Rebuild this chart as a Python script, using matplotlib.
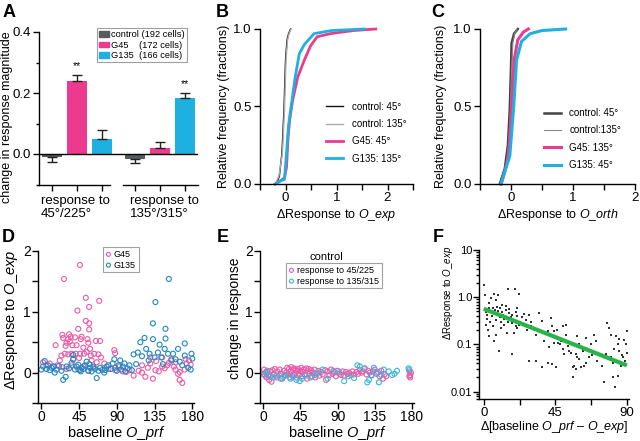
import matplotlib
matplotlib.use("Agg")
import matplotlib.pyplot as plt
import matplotlib.transforms as mtransforms
from matplotlib.patches import Patch
from matplotlib.ticker import MultipleLocator, FixedLocator, NullFormatter, LogLocator

plt.rcParams['font.family'] = ['Liberation Sans', 'DejaVu Sans']
plt.rcParams['mathtext.fontset'] = 'custom'
plt.rcParams['mathtext.rm'] = 'Liberation Sans'
plt.rcParams['mathtext.it'] = 'Liberation Sans:italic'
plt.rcParams['axes.linewidth'] = 1.0

# ---- colours
C_CTRL = '#575b5b'
C_G45 = '#ec3a8e'
C_G135 = '#1fb0e2'
C_D45 = '#ec5aa6'
C_D135 = '#2288c0'
C_E135 = '#3ab6da'

# ---- panel A: bars
a_groups = ['response to\n45°/225°', 'response to\n135°/315°']
a_legend = ['control (192 cells)', 'G45    (172 cells)', 'G135  (166 cells)']
a_mean_45 = [-0.010, 0.240, 0.050]
a_err_45 = [0.016, 0.020, 0.030]
a_mean_135 = [-0.015, 0.020, 0.185]
a_err_135 = [0.013, 0.018, 0.015]
a_stars = [(1, '**'), (5, '**')]  # bar index, mark

# ---- panel B: cumulative curves (x, fraction)
b_ctrl45_x = [-0.18, -0.12, -0.07, -0.03, 0.0, 0.03, 0.06, 0.10]
b_ctrl45_y = [0.0, 0.05, 0.20, 0.48, 0.80, 0.93, 0.97, 1.0]
b_ctrl135_x = [-0.20, -0.13, -0.06, -0.02, 0.01, 0.04, 0.07, 0.11]
b_ctrl135_y = [0.0, 0.05, 0.20, 0.48, 0.80, 0.93, 0.97, 1.0]
b_g45_x = [-0.20, -0.10, -0.02, 0.02, 0.05, 0.08, 0.14, 0.24, 0.37, 0.49, 0.62, 0.88, 1.33, 1.77]
b_g45_y = [0.0, 0.02, 0.04, 0.11, 0.30, 0.41, 0.54, 0.69, 0.80, 0.89, 0.95, 0.97, 0.99, 1.0]
b_g135_x = [-0.20, -0.10, -0.02, 0.02, 0.06, 0.11, 0.19, 0.27, 0.37, 0.56, 0.90, 1.55]
b_g135_y = [0.0, 0.02, 0.03, 0.20, 0.38, 0.50, 0.69, 0.84, 0.90, 0.97, 0.99, 1.0]

# ---- panel C
c_ctrl45_x = [-0.18, -0.10, -0.05, -0.02, 0.0, 0.01, 0.05, 0.11]
c_ctrl45_y = [0.0, 0.10, 0.25, 0.48, 0.75, 0.91, 0.97, 1.0]
c_ctrl135_x = [-0.17, -0.09, -0.04, -0.01, 0.01, 0.03, 0.06, 0.10]
c_ctrl135_y = [0.0, 0.10, 0.25, 0.48, 0.75, 0.91, 0.97, 1.0]
c_g45_x = [-0.16, -0.10, -0.04, 0.01, 0.05, 0.11, 0.20, 0.28]
c_g45_y = [0.0, 0.08, 0.18, 0.48, 0.80, 0.93, 0.98, 1.0]
c_g135_x = [-0.16, -0.10, -0.02, 0.04, 0.09, 0.17, 0.31, 0.50, 0.88]
c_g135_y = [0.0, 0.08, 0.18, 0.48, 0.80, 0.92, 0.97, 0.99, 1.0]

# ---- panel D: (baseline O_prf, delta response)
d_g45 = [(27, 1.54), (46, 1.77), (53, 1.23), (43, 1.02), (57, 1.08), (69, 1.18), (53, 0.85), (57, 0.81),
         (44, 0.72), (57, 0.71), (25, 0.62), (26, 0.57), (17, 0.45), (33, 0.63), (35, 0.59), (32, 0.55),
         (40, 0.58), (48, 0.59), (47, 0.55), (34, 0.51), (30, 0.49), (29, 0.44), (37, 0.45), (42, 0.45),
         (65, 0.52), (70, 0.52), (55, 0.55), (56, 0.49), (50, 0.41), (58, 0.39), (54, 0.34), (24, 0.28),
         (28, 0.31), (32, 0.30), (36, 0.31), (41, 0.31), (46, 0.31), (51, 0.31), (59, 0.28), (63, 0.31),
         (68, 0.30), (71, 0.25), (87, 0.37), (88, 0.32), (22, 0.20), (38, 0.22), (45, 0.24), (60, 0.20),
         (66, 0.17), (75, 0.15), (2, 0.17), (6, 0.12), (10, 0.15), (14, 0.10), (19, 0.12), (25, 0.09),
         (30, 0.06), (36, 0.12), (44, 0.05), (50, 0.10), (56, 0.03), (62, 0.08), (80, 0.06), (88, 0.04),
         (93, 0.10), (97, 0.02), (101, 0.01), (105, 0.04), (110, -0.05), (116, 0.03), (120, 0.0),
         (124, -0.07), (127, 0.08), (130, 0.15), (133, -0.10), (136, 0.04), (140, 0.02), (144, 0.10),
         (147, 0.07), (150, 0.12), (152, 0.16), (155, 0.22), (158, 0.10), (160, 0.05), (163, -0.02),
         (165, 0.01), (168, -0.17), (171, 0.05), (173, 0.15), (176, 0.20), (178, 0.13), (130, 0.25),
         (137, 0.19), (120, 0.12), (144, 0.25), (165, -0.12), (160, 0.17), (172, 0.22)]
d_g135 = [(152, 1.54), (136, 1.16), (133, 0.81), (148, 0.72), (148, 0.56), (123, 0.57), (133, 0.55),
          (118, 0.50), (141, 0.46), (171, 0.48), (163, 0.39), (157, 0.31), (115, 0.33), (125, 0.39),
          (129, 0.31), (139, 0.33), (147, 0.39), (151, 0.31), (135, 0.25), (143, 0.25), (171, 0.28),
          (179, 0.31), (180, 0.23), (110, 0.30), (160, 0.22), (165, 0.18), (128, 0.20), (120, 0.27),
          (155, 0.20), (145, 0.14), (113, 0.14), (175, 0.08), (178, 0.05), (168, 0.12), (0, 0.05),
          (2, 0.10), (4, 0.19), (6, 0.06), (8, 0.12), (10, 0.04), (12, 0.08), (15, 0.10), (18, 0.05),
          (21, 0.11), (24, 0.03), (26, -0.12), (29, -0.07), (30, 0.10), (33, 0.07), (36, 0.16),
          (38, 0.22), (40, 0.05), (42, 0.10), (44, 0.13), (46, 0.04), (48, 0.08), (50, 0.06), (52, 0.12),
          (54, 0.18), (56, 0.03), (58, 0.08), (60, 0.02), (62, 0.10), (64, 0.06), (66, -0.09), (68, 0.03),
          (70, 0.08), (73, 0.05), (76, 0.04), (78, 0.10), (80, 0.12), (83, 0.06), (85, 0.15), (87, 0.22),
          (88, 0.08), (90, 0.03), (92, 0.12), (94, 0.20), (95, 0.05), (97, 0.10), (99, 0.15), (100, 0.02),
          (103, 0.07), (105, 0.12), (108, 0.04), (38, 0.29), (47, 0.02), (16, 0.0), (57, 0.14), (75, 0.0)]

# ---- panel E: control cells
e_45 = [(0, -0.02), (1, 0.05), (2, -0.05), (3, 0.0), (4, -0.08), (5, 0.03), (6, -0.04), (7, -0.12),
        (8, 0.02), (9, -0.06), (10, -0.15), (11, 0.04), (13, -0.03), (14, 0.06), (16, -0.08), (17, 0.02),
        (19, -0.04), (20, 0.05), (22, -0.02), (23, -0.10), (25, 0.03), (26, -0.05), (28, 0.0), (29, 0.08),
        (30, -0.03), (31, 0.06), (32, -0.08), (33, 0.02), (34, 0.09), (35, -0.05), (36, 0.04), (37, 0.07),
        (38, -0.02), (39, 0.05), (40, -0.08), (41, 0.02), (42, 0.06), (43, -0.04), (45, 0.03), (46, 0.08),
        (47, -0.06), (48, 0.01), (49, 0.05), (50, -0.03), (52, 0.07), (53, -0.10), (54, 0.02), (55, 0.06),
        (56, -0.02), (58, 0.04), (59, -0.06), (60, 0.0), (62, 0.05), (63, -0.08), (65, -0.02), (67, 0.03),
        (68, -0.05), (70, 0.01), (72, -0.03), (75, 0.04), (76, -0.12), (78, 0.02), (80, -0.04), (82, 0.05),
        (84, -0.02), (86, 0.01), (88, -0.06), (90, 0.03), (92, -0.02), (94, -0.04), (96, 0.02), (98, -0.05),
        (100, 0.01), (102, -0.02), (104, 0.0), (106, -0.04), (108, 0.02), (110, -0.03), (113, 0.01),
        (115, -0.02), (117, 0.04), (119, 0.0), (121, 0.02), (123, 0.07), (125, -0.03), (127, 0.03),
        (129, 0.0), (131, -0.04), (133, 0.02), (135, 0.05), (137, -0.02), (139, 0.01), (141, -0.06),
        (143, 0.03), (145, -0.10), (147, -0.03), (149, -0.06), (177, 0.02), (178, -0.04), (178, -0.08),
        (179, 0.0), (177, -0.06)]
e_135 = [(1, -0.03), (4, 0.02), (8, -0.06), (12, -0.08), (16, -0.05), (21, -0.10), (24, -0.07),
         (27, -0.04), (33, -0.10), (36, -0.06), (40, -0.12), (44, -0.14), (47, -0.10), (51, -0.05),
         (57, -0.08), (63, -0.04), (66, 0.0), (72, 0.05), (78, -0.10), (85, 0.03), (92, 0.01), (98, -0.14),
         (103, -0.06), (110, -0.09), (114, 0.12), (117, 0.10), (122, 0.06), (126, -0.16), (128, -0.12),
         (131, -0.05), (134, 0.08), (137, 0.0), (140, -0.16), (143, -0.04), (146, 0.05), (152, 0.02),
         (156, -0.04), (159, -0.02), (162, 0.03), (176, 0.07), (177, 0.05)]

# ---- panel F: (delta angle, delta response), plus fitted line ends
f_pts = [(0.2, 1.78), (0.8, 1.1), (4.4, 0.94), (3.4, 0.74), (6.5, 1.19), (9.2, 1.1), (8, 0.87), (15.5, 1.51),
         (19.7, 1.51), (22.2, 1.19), (1.3, 0.49), (2.3, 0.42), (3.8, 0.49), (5.5, 0.58), (7.1, 0.54),
         (8.6, 0.63), (10, 0.58), (11.3, 0.68), (11.7, 0.49), (13.8, 0.54), (15.9, 0.46), (18, 0.42),
         (20.1, 0.49), (21.2, 0.58), (24.3, 0.39), (26.4, 0.33), (28.5, 0.42), (29.6, 0.24), (34.8, 0.46),
         (36.9, 0.31), (40.1, 0.19), (42.2, 0.36), (42.8, 0.24), (44.3, 0.19), (45.3, 0.138), (46.4, 0.108),
         (47.8, 0.1), (49.5, 0.117), (49.9, 0.24), (51.6, 0.26), (51.6, 0.16), (52.7, 0.092), (53.7, 0.072),
         (54.8, 0.067), (56.8, 0.035), (57.9, 0.062), (58.9, 0.15), (60, 0.1), (62.1, 0.072), (63.1, 0.035),
         (64.2, 0.138), (66.3, 0.053), (67.3, 0.1), (69.4, 0.16), (70.5, 0.117), (72.6, 0.062), (74.3, 0.035),
         (75.7, 0.016), (76.8, 0.062), (77.2, 0.28), (78.9, 0.22), (79.9, 0.16), (81, 0.041), (81.4, 0.02),
         (82.7, 0.0125), (83.1, 0.15), (84.1, 0.1), (85.2, 0.072), (87.3, 0.053), (88.3, 0.127), (89.4, 0.1),
         (89.8, 0.19), (90, 0.067), (86.2, 0.035), (84.7, 0.022), (1.3, 0.26), (2.9, 0.205), (3.4, 0.15),
         (6.5, 0.117), (7.6, 0.16), (9.6, 0.072), (10.7, 0.22), (12.8, 0.26), (14.9, 0.175), (17.6, 0.062),
         (19.1, 0.175), (21.2, 0.22), (22.2, 0.26), (25.4, 0.26), (28.5, 0.045), (32.7, 0.045), (36.9, 0.033),
         (40.1, 0.041), (43.2, 0.038), (45.3, 0.033), (48.5, 0.117), (50.6, 0.062), (55.8, 0.033),
         (57.9, 0.030), (58.9, 0.053), (61, 0.033), (64.2, 0.041), (55.8, 0.020), (2, 0.35), (3, 0.6),
         (4, 0.3), (5, 0.4), (6, 0.25), (7, 0.45), (8, 0.33), (9, 0.5), (10, 0.38), (11, 0.3), (12, 0.42),
         (13, 0.35), (14, 0.65), (15, 0.3), (16, 0.55), (17, 0.38), (18, 0.28), (19, 0.33), (20, 0.25),
         (21, 0.4), (23, 0.3), (25, 0.45), (27, 0.2), (30, 0.3), (33, 0.16), (38, 0.12), (41, 0.09),
         (44, 0.11), (46, 0.2), (48, 0.14), (50, 0.08), (53, 0.12), (56, 0.11), (60, 0.05), (65, 0.08),
         (68, 0.06), (71, 0.045), (80, 0.055), (82, 0.08), (85, 0.13), (87, 0.06), (89, 0.045)]
f_fit_x = [0, 90]
f_fit_y = [0.57, 0.036]

W, H = 640, 441
fig = plt.figure(figsize=(6.4, 4.41), dpi=100)


def px_axes(left, top, right, bottom):
    return fig.add_axes([left / W, 1 - bottom / H, (right - left) / W, (bottom - top) / H])


def style(ax, fs=9.5, pad=2):
    for s in ('top', 'right'):
        ax.spines[s].set_visible(False)
    ax.tick_params(which='major', length=4, width=1, labelsize=fs, pad=pad)
    ax.tick_params(which='minor', length=2.5, width=1)


def letter(x, y, s):
    fig.text(x / W, 1 - y / H, s, fontsize=13, fontweight='bold', va='top', ha='left')


def boxed_legend(handles, labels, anchor, fs):
    lg = fig.legend(handles, labels, loc='upper left', bbox_to_anchor=anchor, fontsize=fs,
                    frameon=True, fancybox=False, handlelength=0.6, handletextpad=0.3,
                    labelspacing=0.2, borderpad=0.3, borderaxespad=0, markerscale=0.8)
    lg.get_frame().set_edgecolor('#888888')
    lg.get_frame().set_linewidth(0.8)
    return lg


# ================= A
ax = px_axes(39, 32, 198, 184.5)
style(ax)
pos = [0, 1, 2, 3.3, 4.3, 5.3]
means = a_mean_45 + a_mean_135
errs = a_err_45 + a_err_135
cols = [C_CTRL, C_G45, C_G135] * 2
ax.bar(pos, means, width=0.8, color=cols, zorder=2)
lo = [e if m < 0 else 0 for m, e in zip(means, errs)]
hi = [e if m >= 0 else 0 for m, e in zip(means, errs)]
ax.errorbar(pos, means, yerr=[lo, hi], fmt='none', ecolor='#222222', elinewidth=1,
            capsize=3.5, capthick=1, zorder=3)
ax.axhline(0, color='k', lw=1, zorder=4)
for i, s in a_stars:
    ax.text(pos[i], means[i] + errs[i] + 0.012, s, ha='center', va='bottom', fontsize=7.5)
ax.set_xlim(-0.52, 5.84)
ax.set_ylim(-0.1, 0.4)
ax.yaxis.set_major_locator(FixedLocator([0.0, 0.2, 0.4]))
ax.yaxis.set_minor_locator(FixedLocator([-0.1, 0.1, 0.3]))
ax.set_yticklabels(['0.0', '0.2', '0.4'])
ax.set_xticks(pos)
ax.set_xticklabels([''] * 6)
ax.spines['bottom'].set_visible(False)
tb = mtransforms.blended_transform_factory(ax.transData, ax.transAxes)
ax.plot([-0.52, 2.32], [0, 0], color='k', lw=1, transform=tb, clip_on=False)
ax.plot([2.84, 5.84], [0, 0], color='k', lw=1, transform=tb, clip_on=False)
ax.text(-0.44, -0.07, a_groups[0], transform=tb, ha='left', va='top', fontsize=9.5, linespacing=1.05)
ax.text(3.12, -0.07, a_groups[1], transform=tb, ha='left', va='top', fontsize=9.5, linespacing=1.05)
ax.set_ylabel('change in response magnitude', fontsize=9)
ax.yaxis.set_label_coords(-0.165, 0.44)
handles = [Patch(color=c) for c in (C_CTRL, C_G45, C_G135)]
lg = fig.legend(handles, a_legend, loc='upper left', bbox_to_anchor=(97 / W, 1 - 28 / H),
                fontsize=6.7, frameon=True, fancybox=False, handlelength=1.0, handleheight=0.55,
                handletextpad=0.3, labelspacing=0.15, borderpad=0.25, borderaxespad=0)
lg.get_frame().set_edgecolor('#888888')
lg.get_frame().set_linewidth(0.8)
letter(3, 4, 'A')


# ================= B and C
def cdf_panel(ax, curves, xmax, legend_anchor, label_x):
    style(ax)
    for x, y, c, lw, lab in curves:
        ax.plot(x, y, color=c, lw=lw, label=lab, clip_on=False, solid_joinstyle='round')
    ax.set_xlim(-0.5, xmax)
    ax.set_ylim(0, 1)
    ax.xaxis.set_major_locator(FixedLocator([0, 1, 2]))
    ax.xaxis.set_minor_locator(MultipleLocator(0.5))
    ax.tick_params(axis='x', which='minor', length=4)
    ax.yaxis.set_major_locator(FixedLocator([0, 0.5, 1.0]))
    ax.set_yticklabels(['0.0', '0.5', '1.0'])
    ax.set_ylabel('Relative frequency (fractions)', fontsize=9)
    ax.yaxis.set_label_coords(label_x, 0.5)
    ax.legend(loc='upper left', bbox_to_anchor=legend_anchor, frameon=False, fontsize=7,
              handlelength=1.8, handletextpad=0.85, labelspacing=0.75, borderpad=0, borderaxespad=0)


ax = px_axes(260, 29, 413, 184)
cdf_panel(ax, [(b_ctrl45_x, b_ctrl45_y, '#111111', 1.0, 'control: 45°'),
               (b_ctrl135_x, b_ctrl135_y, '#aaaaaa', 1.0, 'control: 135°'),
               (b_g45_x, b_g45_y, C_G45, 2.0, 'G45: 45°'),
               (b_g135_x, b_g135_y, C_G135, 2.0, 'G135: 135°')], 2.5, (0.43, 0.53), -0.196)
ax.set_xlabel(r'$\Delta$Response to $\mathit{O\_exp}$', fontsize=9, labelpad=2)
letter(216, 4, 'B')

ax = px_axes(480, 29, 635, 184)
cdf_panel(ax, [(c_ctrl45_x, c_ctrl45_y, '#444444', 1.8, 'control: 45°'),
               (c_ctrl135_x, c_ctrl135_y, '#888888', 0.8, 'control:135°'),
               (c_g45_x, c_g45_y, C_G45, 2.2, 'G45: 135°'),
               (c_g135_x, c_g135_y, C_G135, 2.2, 'G135: 45°')], 2.0, (0.41, 0.49), -0.213)
ax.set_xlabel(r'$\Delta$Response to $\mathit{O\_orth}$', fontsize=9, labelpad=2)
letter(431, 4, 'C')


# ================= D
def scatter_panel(ax, sets):
    style(ax, fs=10, pad=1)
    for pts, c, lab in sets:
        ax.scatter([p[0] for p in pts], [p[1] for p in pts], s=13, facecolors='none',
                   edgecolors=c, linewidths=0.8, label=lab, clip_on=False)
    ax.set_xlim(-4, 182)
    ax.set_ylim(-0.5, 2)
    ax.set_xticks([0, 45, 90, 135, 180])
    ax.yaxis.set_major_locator(FixedLocator([0, 1, 2]))
    ax.yaxis.set_minor_locator(MultipleLocator(0.5))
    ax.tick_params(axis='y', which='minor', length=4)
    ax.set_xlabel(r'baseline $\mathit{O\_prf}$', fontsize=10.5, labelpad=0)


ax = px_axes(38, 251, 194, 403)
scatter_panel(ax, [(d_g45, C_D45, 'G45'), (d_g135, C_D135, 'G135')])
ax.set_ylabel(r'$\Delta$Response to $\mathit{O\_exp}$', fontsize=10.5)
ax.yaxis.set_label_coords(-0.115, 0.55)
boxed_legend(ax.collections[:2], ['G45', 'G135'], (103 / W, 1 - 247 / H), 6.5)
letter(2, 229, 'D')

# ================= E
ax = px_axes(260, 251, 413.5, 403)
scatter_panel(ax, [(e_45, C_D45, 'response to 45/225'), (e_135, C_E135, 'response to 135/315')])
ax.set_ylabel('change in response', fontsize=10)
ax.yaxis.set_label_coords(-0.12, 0.56)
boxed_legend(ax.collections[:2], ['response to 45/225', 'response to 135/315'],
             (286 / W, 1 - 263 / H), 6.5)
fig.text(326 / W, 1 - 257 / H, 'control', ha='center', va='center', fontsize=8)
letter(217, 229, 'E')

# ================= F
ax = px_axes(479, 250, 628.5, 399)
style(ax, fs=8, pad=1)
ax.scatter([p[0] for p in f_pts], [p[1] for p in f_pts], s=4, marker='s', color='#333333',
           linewidths=0, clip_on=False, zorder=2)
ax.plot(f_fit_x, f_fit_y, color='#2ab34b', lw=3, zorder=3, solid_capstyle='butt')
ax.set_yscale('log')
ax.set_xlim(-3, 91)
ax.set_ylim(0.007, 10)
ax.yaxis.set_major_locator(FixedLocator([0.01, 0.1, 1, 10]))
ax.set_yticklabels(['0.01', '0.1', '1.0', '10'])
ax.yaxis.set_minor_locator(LogLocator(base=10, subs=[2, 3, 4, 5, 6, 7, 8, 9]))
ax.yaxis.set_minor_formatter(NullFormatter())
ax.xaxis.set_major_locator(FixedLocator([0, 45, 90]))
ax.xaxis.set_minor_locator(FixedLocator([22.5, 67.5]))
ax.tick_params(axis='x', which='minor', length=4)
ax.tick_params(axis='x', labelsize=9.5, pad=1.5)
ax.set_xlabel(r'$\Delta$[baseline $\mathit{O\_prf}$ – $\mathit{O\_exp}$]', fontsize=9, labelpad=0)
ax.set_ylabel(r'$\Delta$Response to $\mathit{O\_exp}$', fontsize=7)
ax.yaxis.set_label_coords(-0.158, 0.71)
letter(433, 229, 'F')

fig.savefig('out.png', dpi=100)
